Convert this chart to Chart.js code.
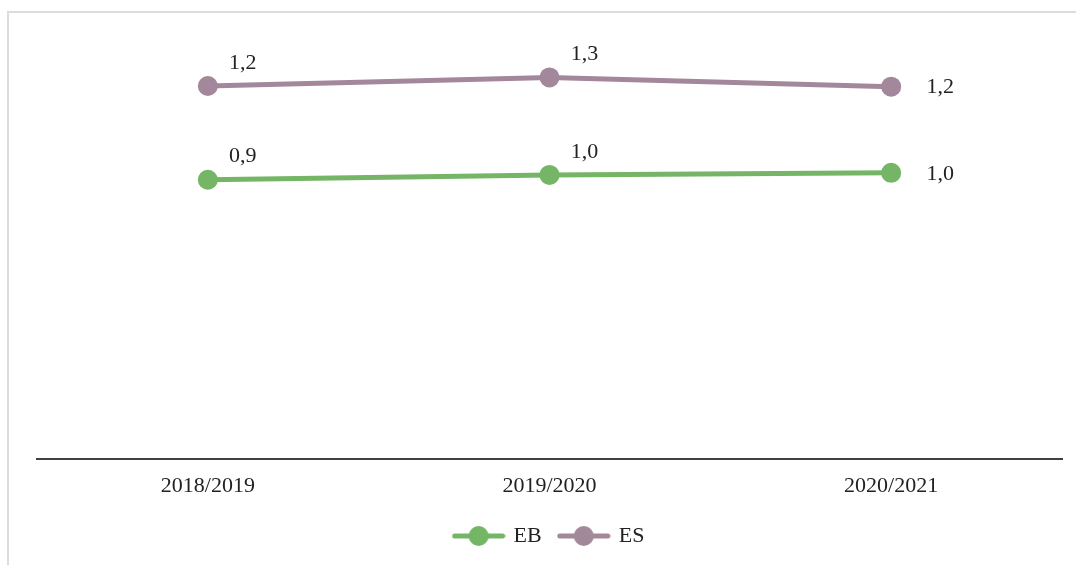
<!DOCTYPE html>
<html>
<head>
<meta charset="utf-8">
<script src="https://cdn.jsdelivr.net/npm/chart.js@4"></script>
<style>
  html, body { margin: 0; padding: 0; background: #fff; }
  #wrap { width: 1076px; height: 565px; position: relative; }
</style>
</head>
<body>
<div id="wrap"><canvas id="myChart"></canvas></div>
<script>
const anos = ['2018/2019', '2019/2020', '2020/2021'];
const valoresEB = [0.935, 0.951, 0.958];
const valoresES = [1.249, 1.278, 1.247];

const corEB = '#74b566';
const corES = '#a2889a';
const fonte = 'Liberation Serif, Times New Roman, serif';

// line + marker swatch used as the legend symbol
function simbolo(cor) {
  const c = document.createElement('canvas');
  c.width = 54; c.height = 22;
  const g = c.getContext('2d');
  g.strokeStyle = cor;
  g.lineWidth = 5;
  g.lineCap = 'round';
  g.beginPath(); g.moveTo(3, 11); g.lineTo(51, 11); g.stroke();
  g.fillStyle = cor;
  g.beginPath(); g.arc(27, 11, 10, 0, Math.PI * 2); g.fill();
  return c;
}

function fmt(v) {
  return v.toFixed(1).replace('.', ',');
}

// value labels: above-right for the first two points, to the right for the last
const rotulos = {
  id: 'rotulos',
  afterDatasetsDraw(chart) {
    const ctx = chart.ctx;
    ctx.save();
    ctx.font = '22px ' + fonte;
    ctx.fillStyle = '#222';
    ctx.textAlign = 'center';
    ctx.textBaseline = 'middle';
    chart.data.datasets.forEach((ds, i) => {
      chart.getDatasetMeta(i).data.forEach((pt, j) => {
        const ultimo = j === ds.data.length - 1;
        const dx = ultimo ? 49 : 35;
        const dy = ultimo ? 1 : -23;
        ctx.fillText(fmt(ds.data[j]), pt.x + dx, pt.y + dy);
      });
    });
    ctx.restore();
  }
};

// outer frame of the chart object (top and left edges)
const moldura = {
  id: 'moldura',
  beforeDraw(chart) {
    const ctx = chart.ctx;
    ctx.save();
    ctx.strokeStyle = '#dcdcdc';
    ctx.lineWidth = 2;
    ctx.beginPath();
    ctx.moveTo(8, 565); ctx.lineTo(8, 12); ctx.lineTo(1076, 12);
    ctx.stroke();
    ctx.restore();
  }
};

const ctx = document.getElementById('myChart');

new Chart(ctx, {
  type: 'line',
  data: {
    labels: anos,
    datasets: [
      {
        label: 'EB',
        data: valoresEB,
        borderColor: corEB,
        backgroundColor: corEB,
        borderWidth: 5,
        pointRadius: 10,
        pointHoverRadius: 10,
        pointBorderWidth: 0,
        pointStyle: 'circle',
        tension: 0
      },
      {
        label: 'ES',
        data: valoresES,
        borderColor: corES,
        backgroundColor: corES,
        borderWidth: 5,
        pointRadius: 10,
        pointHoverRadius: 10,
        pointBorderWidth: 0,
        pointStyle: 'circle',
        tension: 0
      }
    ]
  },
  options: {
    responsive: true,
    maintainAspectRatio: false,
    animation: false,
    layout: {
      padding: { left: 37, right: 14, top: 41, bottom: 8 }
    },
    scales: {
      x: {
        offset: true,
        grid: { display: true, color: 'rgba(0,0,0,0)', drawTicks: false },
        border: { display: true, color: '#404040', width: 2 },
        ticks: {
          color: '#222',
          padding: 14,
          font: { family: fonte, size: 22 }
        },
        afterFit(scale) {
          scale.height -= 6;
        }
      },
      y: {
        display: false,
        min: 0,
        max: 1.4
      }
    },
    plugins: {
      tooltip: { enabled: false },
      legend: {
        position: 'bottom',
        labels: {
          usePointStyle: true,
          pointStyleWidth: 48,
          padding: 18,
          color: '#222',
          font: { family: fonte, size: 22 },
          generateLabels(chart) {
            return chart.data.datasets.map((ds, i) => ({
              text: ds.label,
              pointStyle: simbolo(ds.borderColor),
              fillStyle: ds.borderColor,
              strokeStyle: ds.borderColor,
              lineWidth: 0,
              hidden: false,
              datasetIndex: i,
              fontColor: '#222'
            }));
          }
        }
      }
    }
  },
  plugins: [rotulos, moldura]
});
</script>
</body>
</html>
